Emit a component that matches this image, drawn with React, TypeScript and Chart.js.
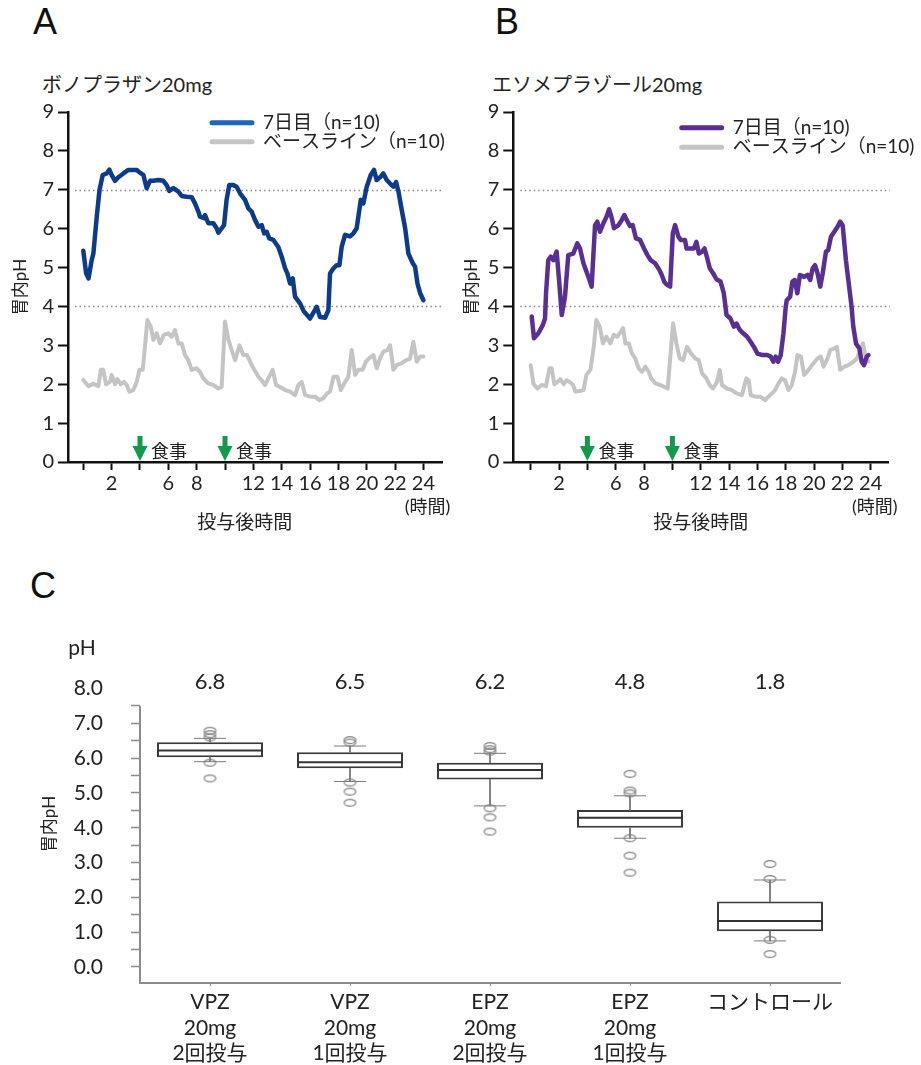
import React, { useEffect, useRef } from 'react';
import { Chart, registerables } from 'chart.js';
Chart.register(...registerables);

const FONT = 'Lato, "Noto Sans CJK JP", sans-serif';
const JP = '"Noto Sans CJK JP", sans-serif';

// ---------- Panel A: vonoprazan 20 mg ----------
const vpzDay7Hours = [0, 0.2, 0.37, 0.59, 0.71, 0.95, 1.14, 1.37, 1.65, 1.84, 2, 2.24, 2.47, 2.83, 3.18, 3.53, 3.77, 4, 4.24, 4.47, 4.71, 4.94, 5.29, 5.65, 5.88, 6.07, 6.35, 6.71, 6.94, 7.29, 7.65, 7.88, 8.12, 8.23, 8.52, 8.59, 8.82, 9.18, 9.41, 9.53, 9.76, 9.93, 10.11, 10.3, 10.59, 10.82, 11.06, 11.41, 11.65, 11.88, 12.12, 12.36, 12.59, 12.76, 12.94, 13.12, 13.41, 13.76, 14, 14.24, 14.4, 14.59, 14.78, 14.94, 15.29, 15.55, 16, 16.47, 16.7, 17.06, 17.29, 17.41, 17.65, 17.88, 18.07, 18.23, 18.47, 18.82, 19.06, 19.29, 19.58, 19.76, 20, 20.28, 20.51, 20.7, 20.94, 21.17, 21.41, 21.65, 21.88, 22.07, 22.24, 22.47, 22.71, 22.94, 23.25, 23.41, 23.58, 23.77, 24];
const vpzDay7PH = [5.43, 4.85, 4.72, 5.19, 5.36, 6.31, 6.99, 7.38, 7.42, 7.52, 7.38, 7.23, 7.32, 7.42, 7.51, 7.51, 7.51, 7.44, 7.38, 7.04, 7.23, 7.23, 7.25, 7.23, 7.12, 6.97, 7.04, 6.95, 6.84, 6.82, 6.81, 6.65, 6.44, 6.31, 6.27, 6.35, 6.14, 6.14, 6.01, 5.9, 6.01, 6.09, 6.74, 7.12, 7.12, 7.08, 6.91, 6.74, 6.52, 6.44, 6.22, 6.05, 6.09, 5.88, 5.92, 5.75, 5.71, 5.53, 5.28, 4.98, 4.85, 4.59, 4.72, 4.25, 4.08, 3.88, 3.69, 3.99, 3.73, 3.71, 3.9, 4.85, 4.98, 5.06, 5.06, 5.53, 5.84, 5.8, 5.88, 6.01, 6.74, 6.65, 7.08, 7.38, 7.51, 7.25, 7.32, 7.42, 7.25, 7.16, 7.08, 7.2, 6.95, 6.48, 6.01, 5.36, 5.11, 5.02, 4.59, 4.34, 4.16];
const vpzBaseHours = [0, 0.37, 0.71, 1.06, 1.24, 1.41, 1.6, 1.88, 2, 2.24, 2.4, 2.64, 2.87, 3.06, 3.25, 3.53, 3.77, 3.96, 4.19, 4.35, 4.52, 4.76, 4.94, 5.18, 5.41, 5.69, 6, 6.23, 6.47, 6.71, 6.94, 7.18, 7.41, 7.65, 8, 8.23, 8.47, 8.82, 9.18, 9.53, 9.76, 10, 10.24, 10.47, 10.71, 11.02, 11.29, 11.55, 11.82, 12.06, 12.36, 12.59, 12.82, 13.06, 13.36, 13.6, 13.88, 14.24, 14.59, 14.94, 15.18, 15.41, 15.65, 16, 16.35, 16.65, 16.94, 17.18, 17.41, 17.65, 17.93, 18.17, 18.47, 18.7, 18.94, 19.18, 19.41, 19.71, 19.94, 20.18, 20.47, 20.71, 20.94, 21.18, 21.47, 21.65, 21.88, 22.12, 22.47, 22.77, 23.05, 23.29, 23.53, 23.77, 24];
const vpzBasePH = [2.11, 1.95, 2.01, 1.95, 2.37, 2.37, 2.0, 2.06, 2.24, 2.0, 2.13, 2.0, 2.06, 1.98, 1.81, 1.85, 2.06, 2.37, 2.37, 2.96, 3.65, 3.48, 3.14, 3.31, 3.05, 3.27, 3.31, 3.22, 3.39, 3.05, 3.05, 2.75, 2.62, 2.37, 2.41, 2.32, 2.15, 2.02, 1.98, 1.89, 1.93, 3.61, 3.14, 2.88, 2.62, 3.0, 2.75, 2.75, 2.54, 2.37, 2.19, 2.1, 1.98, 2.15, 2.37, 1.98, 1.93, 1.85, 1.81, 1.72, 1.98, 2.06, 1.72, 1.68, 1.68, 1.59, 1.64, 1.76, 1.81, 2.19, 2.19, 1.85, 2.06, 2.19, 2.88, 2.24, 2.37, 2.37, 2.58, 2.67, 2.75, 2.41, 2.67, 2.84, 2.88, 3.0, 2.37, 2.49, 2.54, 2.62, 2.65, 3.09, 2.58, 2.71, 2.71];

// ---------- Panel B: esomeprazole 20 mg ----------
const epzDay7Hours = [0.07, 0.23, 0.54, 0.85, 1.01, 1.08, 1.24, 1.41, 1.6, 1.83, 2, 2.19, 2.42, 2.65, 3, 3.29, 3.48, 3.72, 4.07, 4.3, 4.54, 4.7, 4.89, 5.13, 5.36, 5.53, 5.72, 5.88, 6.19, 6.42, 6.61, 6.78, 7.01, 7.2, 7.43, 7.72, 8, 8.24, 8.47, 8.78, 9.08, 9.25, 9.42, 9.6, 9.84, 10.03, 10.19, 10.43, 10.59, 10.89, 11, 11.28, 11.52, 11.7, 11.87, 12.1, 12.27, 12.46, 12.64, 12.88, 13.11, 13.4, 13.63, 13.82, 14.1, 14.34, 14.53, 14.77, 15, 15.28, 15.52, 15.76, 16, 16.35, 16.7, 16.94, 17.13, 17.29, 17.46, 17.65, 17.84, 18, 18.07, 18.31, 18.47, 18.64, 18.82, 19, 19.3, 19.54, 19.73, 19.9, 20.07, 20.25, 20.44, 20.61, 20.84, 21, 21.19, 21.43, 21.66, 21.85, 22.02, 22.25, 22.65, 22.77, 22.96, 23.2, 23.36, 23.53, 23.72, 23.84];
const epzDay7PH = [3.74, 3.18, 3.31, 3.52, 3.69, 4.34, 5.19, 5.28, 5.19, 5.41, 4.68, 3.78, 4.25, 5.32, 5.36, 5.62, 5.49, 5.11, 4.76, 4.51, 6.09, 6.18, 5.92, 6.14, 6.31, 6.5, 6.27, 6.01, 6.09, 6.22, 6.35, 6.22, 6.07, 6.09, 5.75, 5.71, 5.49, 5.32, 5.19, 5.11, 4.94, 4.81, 4.64, 4.56, 4.51, 5.88, 6.09, 5.79, 5.71, 5.71, 5.49, 5.49, 5.49, 5.66, 5.36, 5.41, 5.49, 5.24, 4.98, 4.85, 4.7, 4.64, 4.34, 3.78, 3.69, 3.48, 3.56, 3.39, 3.31, 3.22, 3.09, 2.96, 2.79, 2.75, 2.75, 2.71, 2.58, 2.71, 2.58, 2.75, 3.31, 3.99, 4.16, 4.25, 4.64, 4.68, 4.34, 4.81, 4.76, 4.81, 4.68, 4.98, 5.06, 4.85, 4.51, 4.85, 5.41, 5.45, 5.79, 5.92, 6.05, 6.18, 6.09, 5.19, 3.99, 3.48, 3.05, 2.92, 2.58, 2.49, 2.71, 2.75];
const epzBaseHours = [0, 0.19, 0.47, 0.78, 1.08, 1.32, 1.48, 1.67, 1.9, 2.09, 2.33, 2.52, 2.75, 2.99, 3.15, 3.5, 3.73, 3.93, 4.21, 4.45, 4.63, 4.87, 5.1, 5.34, 5.62, 5.86, 6.09, 6.28, 6.52, 6.68, 6.92, 7.15, 7.39, 7.62, 7.86, 8.09, 8.33, 8.5, 8.8, 9.15, 9.51, 9.67, 10.05, 10.28, 10.52, 10.75, 11.04, 11.32, 11.62, 11.86, 12.09, 12.4, 12.63, 12.87, 13.15, 13.34, 13.5, 13.85, 14.2, 14.56, 14.91, 15.22, 15.38, 15.53, 15.84, 16.19, 16.55, 16.78, 17.02, 17.25, 17.49, 17.72, 17.96, 18.19, 18.43, 18.66, 18.83, 19.07, 19.3, 19.61, 19.96, 20.24, 20.48, 20.67, 20.95, 21.14, 21.42, 21.61, 21.84, 22.13, 22.43, 22.79, 23.02, 23.26, 23.45, 23.61, 23.84];
const epzBasePH = [2.49, 2.01, 1.89, 1.98, 1.95, 2.41, 2.41, 2.0, 2.06, 2.13, 2.0, 2.1, 2.06, 1.98, 1.81, 1.83, 1.85, 2.24, 2.37, 2.96, 3.65, 3.48, 3.05, 3.22, 3.05, 3.27, 3.22, 3.31, 3.44, 3.05, 3.05, 2.79, 2.66, 2.41, 2.32, 2.45, 2.32, 2.15, 2.02, 1.98, 1.92, 1.89, 3.57, 3.05, 2.66, 2.62, 2.96, 2.79, 2.66, 2.62, 2.28, 2.15, 1.98, 1.89, 2.06, 2.37, 1.98, 1.89, 1.85, 1.76, 1.72, 2.15, 2.1, 1.72, 1.68, 1.68, 1.59, 1.68, 1.76, 1.85, 2.02, 2.15, 2.1, 1.85, 1.98, 2.32, 2.75, 2.71, 2.24, 2.37, 2.54, 2.66, 2.71, 2.45, 2.66, 2.88, 2.92, 2.96, 2.37, 2.45, 2.49, 2.58, 2.66, 2.88, 3.05, 2.75, 2.58];

const seriesLabels = ['7日目（n=10)', 'ベースライン（n=10)'];
const hourTicks = [0, 2, 4, 6, 8, 10, 12, 14, 16, 18, 20, 22, 24];
const hourTickLabels = ['', '2', '', '6', '8', '', '12', '14', '16', '18', '20', '22', '24'];
const phTicks = [0, 1, 2, 3, 4, 5, 6, 7, 8, 9];
const referenceLevels = [7, 4];
const mealHours = [4, 10];
const mealLabel = '食事';
const hourUnit = '(時間)';
const xTitle = '投与後時間';
const yTitle = '胃内pH';

// ---------- Panel C: box plots ----------
const groupLabels = [['VPZ', '20mg', '2回投与'], ['VPZ', '20mg', '1回投与'], ['EPZ', '20mg', '2回投与'], ['EPZ', '20mg', '1回投与'], 'コントロール'];
const meanPH = ['6.8', '6.5', '6.2', '4.8', '1.8'];
const boxQ1 = [6.03, 5.71, 5.39, 4.0, 1.03];
const boxMedian = [6.22, 5.88, 5.66, 4.29, 1.32];
const boxQ3 = [6.46, 6.17, 5.87, 4.51, 1.88];
const whiskerLow = [5.9, 5.33, 4.63, 3.7, 0.75];
const whiskerHigh = [6.57, 6.35, 6.14, 4.92, 2.5];
const outliers = [
  [6.79, 6.69, 6.6, 5.87, 5.42],
  [6.52, 6.45, 5.3, 5.04, 4.72],
  [6.35, 6.26, 6.19, 4.56, 4.3, 3.89],
  [5.55, 5.07, 4.99, 3.7, 3.2, 2.71],
  [2.96, 2.53, 0.78, 0.37],
];
const boxTicks = [0, 0.5, 1, 1.5, 2, 2.5, 3, 3.5, 4, 4.5, 5, 5.5, 6, 6.5, 7, 7.5, 8];

function pts(h: number[], v: number[]) {
  return h.map((x, i) => ({ x, y: v[i] }));
}

type PanelCfg = {
  day7Hours: number[]; day7PH: number[]; baseHours: number[]; basePH: number[];
  color: string; legendColors: string[];
  xMin: number; xMax: number; yWidth: number; padRight: number; titlePad: number;
  legendDX: number; legendDY: number; legendGap: number; titleHour: number;
};

function makePanelPlugin(cfg: PanelCfg) {
  return {
    id: 'panelDecor',
    beforeDatasetsDraw(chart: any) {
      const { ctx, chartArea: a, scales } = chart;
      ctx.save();
      ctx.strokeStyle = '#8a8a8a';
      ctx.lineWidth = 1.5;
      ctx.setLineDash([1.5, 3]);
      referenceLevels.forEach((v) => {
        const py = Math.round(scales.y.getPixelForValue(v)) + 0.5;
        ctx.beginPath();
        ctx.moveTo(a.left + 7, py);
        ctx.lineTo(a.right + 2, py);
        ctx.stroke();
      });
      ctx.restore();
    },
    afterDraw(chart: any) {
      const { ctx, chartArea: a, scales } = chart;
      const x = scales.x;
      const y = scales.y;
      ctx.save();
      mealHours.forEach((h) => {
        const px = x.getPixelForValue(h);
        const y0 = y.getPixelForValue(0) - 1;
        const top = y0 - 25;
        ctx.fillStyle = '#13994a';
        ctx.fillRect(px - 2.5, top, 5, 12);
        ctx.beginPath();
        ctx.moveTo(px - 7.5, top + 10);
        ctx.lineTo(px + 7.5, top + 10);
        ctx.lineTo(px, y0);
        ctx.closePath();
        ctx.fill();
        ctx.fillStyle = '#222';
        ctx.font = `18px ${JP}`;
        ctx.textBaseline = 'middle';
        ctx.textAlign = 'left';
        ctx.fillText(mealLabel, px + 11, y0 - 10);
      });
      chart.data.datasets.forEach((ds: any, i: number) => {
        const ly = a.top + cfg.legendDY + i * cfg.legendGap;
        const lx = a.left + cfg.legendDX;
        ctx.strokeStyle = cfg.legendColors[i];
        ctx.lineWidth = 5;
        ctx.lineCap = 'round';
        ctx.beginPath();
        ctx.moveTo(lx, ly);
        ctx.lineTo(lx + 40, ly);
        ctx.stroke();
        ctx.fillStyle = '#222';
        ctx.font = `19px ${FONT}`;
        ctx.textAlign = 'left';
        ctx.textBaseline = 'middle';
        ctx.fillText(ds.label, lx + 51, ly);
      });
      ctx.fillStyle = '#222';
      ctx.textAlign = 'center';
      ctx.textBaseline = 'middle';
      ctx.font = `18px ${FONT}`;
      ctx.fillText(hourUnit, x.getPixelForValue(24) + 4, a.bottom + 45);
      ctx.font = `19px ${FONT}`;
      ctx.fillText(xTitle, x.getPixelForValue(cfg.titleHour), a.bottom + 61);
      ctx.restore();
    },
  };
}

function LinePanel({ cfg, left, top, width, height }: { cfg: PanelCfg; left: number; top: number; width: number; height: number }) {
  const ref = useRef<HTMLCanvasElement>(null);
  useEffect(() => {
    const chart = new Chart(ref.current as HTMLCanvasElement, {
      type: 'line',
      data: {
        datasets: [
          { label: seriesLabels[0], data: pts(cfg.day7Hours, cfg.day7PH), borderColor: cfg.color, borderWidth: 4.5, pointRadius: 0, tension: 0, borderJoinStyle: 'round', borderCapStyle: 'round' },
          { label: seriesLabels[1], data: pts(cfg.baseHours, cfg.basePH), borderColor: '#c4c4c4', borderWidth: 4, pointRadius: 0, tension: 0, borderJoinStyle: 'round', borderCapStyle: 'round' },
        ],
      } as any,
      options: {
        responsive: true,
        maintainAspectRatio: false,
        animation: false,
        layout: { padding: { left: 0, right: cfg.padRight, top: 17, bottom: 0 } },
        plugins: { legend: { display: false }, tooltip: { enabled: false } },
        scales: {
          x: {
            type: 'linear',
            min: cfg.xMin,
            max: cfg.xMax,
            afterBuildTicks: (s: any) => { s.ticks = hourTicks.map((v) => ({ value: v })); },
            afterFit: (s: any) => { s.height = 78; },
            ticks: {
              autoSkip: false, maxRotation: 0, padding: 2, color: '#222',
              font: { family: FONT, size: 20 },
              callback: (v: any) => hourTickLabels[hourTicks.indexOf(Number(v))] ?? '',
            },
            grid: { drawOnChartArea: false, tickLength: 8, tickColor: '#111', tickWidth: 2 },
            border: { color: '#111', width: 2.5 },
          },
          y: {
            min: 0,
            max: 9,
            afterBuildTicks: (s: any) => { s.ticks = phTicks.map((v) => ({ value: v })); },
            afterFit: (s: any) => { s.width = cfg.yWidth; },
            ticks: { autoSkip: false, padding: 4, color: '#222', font: { family: FONT, size: 20 } },
            grid: { drawOnChartArea: false, tickLength: 10, tickColor: '#111', tickWidth: 2 },
            border: { color: '#111', width: 2.5 },
            title: { display: true, text: yTitle, color: '#222', font: { family: FONT, size: 17 }, padding: { top: cfg.titlePad, bottom: 0 } },
          },
        },
      } as any,
      plugins: [makePanelPlugin(cfg)],
    });
    return () => chart.destroy();
  }, [cfg]);
  return (
    <div style={{ position: 'absolute', left, top, width, height }}>
      <canvas ref={ref} />
    </div>
  );
}

const panelA: PanelCfg = {
  day7Hours: vpzDay7Hours, day7PH: vpzDay7PH, baseHours: vpzBaseHours, basePH: vpzBasePH,
  color: '#0c3b8c', legendColors: ['#1e66b6', '#c4c4c4'],
  xMin: -1.08, xMax: 25.31, yWidth: 68, padRight: 18, titlePad: 10,
  legendDX: 144, legendDY: 10.7, legendGap: 19, titleHour: 11.4,
};
const panelB: PanelCfg = {
  day7Hours: epzDay7Hours, day7PH: epzDay7PH, baseHours: epzBaseHours, basePH: epzBasePH,
  color: '#5a2f94', legendColors: ['#5a2f94', '#c4c4c4'],
  xMin: -1.23, xMax: 25.22, yWidth: 68.3, padRight: 33, titlePad: 16,
  legendDX: 168.4, legendDY: 15.7, legendGap: 19.6, titleHour: 12.0,
};

function makeEllipse() {
  const c = document.createElement('canvas');
  c.width = 15;
  c.height = 10;
  const g = c.getContext('2d') as CanvasRenderingContext2D;
  g.strokeStyle = '#808080';
  g.lineWidth = 1.2;
  g.beginPath();
  g.ellipse(7.5, 5, 5.8, 3.4, 0, 0, Math.PI * 2);
  g.stroke();
  return c;
}

const boxPlugin = {
  id: 'boxDecor',
  afterDraw(chart: any) {
    const { ctx, chartArea: a, scales } = chart;
    const y = scales.y;
    const x = scales.x;
    ctx.save();
    ctx.strokeStyle = '#8c8c8c';
    ctx.lineWidth = 2;
    ctx.beginPath();
    ctx.moveTo(a.left, y.getPixelForValue(7.5));
    ctx.lineTo(a.left, a.bottom);
    ctx.stroke();
    ctx.fillStyle = '#222';
    ctx.textAlign = 'center';
    ctx.textBaseline = 'middle';
    ctx.font = `22px ${FONT}`;
    meanPH.forEach((m, i) => {
      ctx.fillText(m, x.getPixelForValue(i), a.top - 6.6);
    });
    ctx.font = `21px ${FONT}`;
    ctx.fillText('pH', a.left - 58, a.top - 40.6);
    ctx.translate(a.left - 90, a.top + 135.4);
    ctx.rotate(-Math.PI / 2);
    ctx.font = `17px ${FONT}`;
    ctx.fillText(yTitle, 0, 0);
    ctx.restore();
  },
};

function BoxPanel({ left, top, width, height }: { left: number; top: number; width: number; height: number }) {
  const ref = useRef<HTMLCanvasElement>(null);
  useEffect(() => {
    const ell = makeEllipse();
    const maxOut = Math.max(...outliers.map((o) => o.length));
    const outlierSets = Array.from({ length: maxOut }, (_, k) => ({
      type: 'line',
      data: outliers.map((o) => (k < o.length ? o[k] : null)),
      showLine: false,
      pointStyle: ell,
      pointRadius: 5,
      order: 0,
    }));
    const chart = new Chart(ref.current as HTMLCanvasElement, {
      type: 'bar',
      data: {
        labels: groupLabels,
        datasets: [
          {
            type: 'bar', data: boxQ1.map((q, i) => [q, boxQ3[i]]),
            backgroundColor: '#ffffff', borderColor: '#3a3a3a', borderWidth: 2, borderSkipped: false,
            categoryPercentage: 1, barPercentage: 0.757, grouped: false, order: 10,
          },
          {
            type: 'bar', data: boxQ3.map((q, i) => [q, whiskerHigh[i]]),
            backgroundColor: '#7a7a7a', borderWidth: 0, barThickness: 1.2, grouped: false, order: 9,
          },
          {
            type: 'bar', data: whiskerLow.map((w, i) => [w, boxQ1[i]]),
            backgroundColor: '#7a7a7a', borderWidth: 0, barThickness: 1.2, grouped: false, order: 9,
          },
          {
            type: 'line', data: boxMedian, showLine: false, pointStyle: 'line', pointRadius: 53,
            pointBorderColor: '#333', pointBorderWidth: 2, order: 1,
          },
          {
            type: 'line', data: whiskerHigh, showLine: false, pointStyle: 'line', pointRadius: 16,
            pointBorderColor: '#7a7a7a', pointBorderWidth: 1, order: 2,
          },
          {
            type: 'line', data: whiskerLow, showLine: false, pointStyle: 'line', pointRadius: 16,
            pointBorderColor: '#7a7a7a', pointBorderWidth: 1, order: 2,
          },
          ...outlierSets,
        ],
      } as any,
      options: {
        responsive: true,
        maintainAspectRatio: false,
        animation: false,
        layout: { padding: { left: 0, right: 81, top: 68.6, bottom: 0 } },
        plugins: { legend: { display: false }, tooltip: { enabled: false } },
        scales: {
          x: {
            type: 'category',
            offset: true,
            afterFit: (s: any) => { s.height = 82; },
            ticks: { autoSkip: false, maxRotation: 0, padding: 4, color: '#222', font: { family: FONT, size: 21, lineHeight: 1.2 } },
            grid: { drawOnChartArea: false, offset: false, tickLength: 3, tickColor: '#8c8c8c', tickWidth: 1 },
            border: { color: '#8c8c8c', width: 2 },
          },
          y: {
            type: 'linear',
            min: -0.46,
            max: 8.0,
            afterBuildTicks: (s: any) => { s.ticks = boxTicks.map((v) => ({ value: v })); },
            afterFit: (s: any) => { s.width = 140; },
            ticks: {
              autoSkip: false, padding: 28, color: '#222', font: { family: FONT, size: 21 },
              callback: (v: any) => (Number.isInteger(Number(v)) ? Number(v).toFixed(1) : ''),
            },
            grid: {
              drawOnChartArea: false, tickLength: 9, tickWidth: 1.5,
              tickColor: (c: any) => (c.tick && c.tick.value > 7.5 ? 'rgba(0,0,0,0)' : '#8c8c8c'),
            },
            border: { display: false },
          },
        },
      } as any,
      plugins: [boxPlugin],
    });
    return () => chart.destroy();
  }, []);
  return (
    <div style={{ position: 'absolute', left, top, width, height }}>
      <canvas ref={ref} />
    </div>
  );
}

const letterStyle: React.CSSProperties = {
  position: 'absolute', fontFamily: '"Liberation Sans", sans-serif', fontSize: 36, lineHeight: '36px', color: '#111',
};
const titleStyle: React.CSSProperties = {
  position: 'absolute', fontFamily: FONT, fontSize: 20, lineHeight: '24px', color: '#222', whiteSpace: 'nowrap',
};

export default function App() {
  return (
    <div style={{ position: 'absolute', left: 0, top: 0, width: 921, height: 1065, overflow: 'hidden', background: '#fff' }}>
      <div style={{ ...letterStyle, left: 33, top: 4 }}>A</div>
      <div style={{ ...letterStyle, left: 495, top: 4 }}>B</div>
      <div style={{ ...letterStyle, left: 30, top: 568 }}>C</div>
      <div style={{ ...titleStyle, left: 42, top: 72 }}>ボノプラザン20mg</div>
      <div style={{ ...titleStyle, left: 492, top: 72 }}>エソメプラゾール20mg</div>
      <LinePanel cfg={panelA} left={0} top={95} width={460} height={445} />
      <LinePanel cfg={panelB} left={445} top={95} width={476} height={445} />
      <BoxPanel left={0} top={620} width={921} height={445} />
    </div>
  );
}
